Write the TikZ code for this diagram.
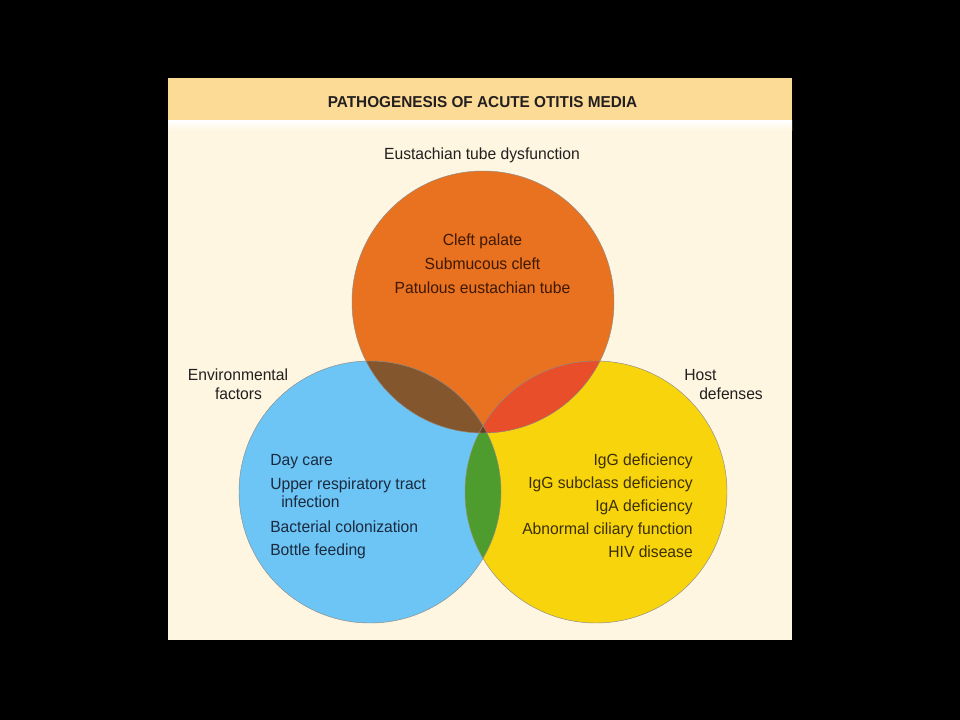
\documentclass[tikz,border=0pt]{standalone}
\usepackage{fontspec}
\setmainfont[FakeStretch=0.97]{Liberation Sans}
\definecolor{cream}{HTML}{FEF6E0}
\definecolor{band}{HTML}{FBDB96}
\definecolor{corange}{HTML}{E8721F}
\definecolor{cblue}{HTML}{6CC5F4}
\definecolor{cyel}{HTML}{F8D40C}
\definecolor{cbrown}{HTML}{84562D}
\definecolor{cred}{HTML}{E84E2A}
\definecolor{cgreen}{HTML}{4E9B2E}
\definecolor{ctriple}{HTML}{6A3C20}
\definecolor{tout}{HTML}{231F20}
\definecolor{tblue}{HTML}{1B2A3F}
\definecolor{tyel}{HTML}{3B2F05}
\definecolor{tor}{HTML}{3E1805}
\begin{document}
\begin{tikzpicture}[x=0.75pt,y=-0.75pt,
  lbl/.style={inner sep=0pt, font=\fontsize{12.1}{14}\selectfont},
  ttl/.style={inner sep=0pt, font=\fontsize{11.85}{13}\selectfont\bfseries, text=tout},
  outline/.style={draw=black!45, line width=0.35pt}]
\fill[black] (0,0) rectangle (960,720);
\useasboundingbox (0,0) rectangle (960,720);
% panel
\fill[cream] (168,78) rectangle (792,640);
\fill[band] (168,78) rectangle (792,121);
\shade[top color=white, bottom color=cream] (168,121) rectangle (792,131);
% circle centres
\coordinate (O) at (483,302);
\coordinate (B) at (370,492);
\coordinate (Y) at (596,492);
\fill[cblue] (B) circle[radius=131];
\fill[cyel] (Y) circle[radius=131];
\fill[corange] (O) circle[radius=131];
\begin{scope}\clip (O) circle[radius=131]; \fill[cbrown] (B) circle[radius=131];\end{scope}
\begin{scope}\clip (O) circle[radius=131]; \fill[cred] (Y) circle[radius=131];\end{scope}
\begin{scope}\clip (B) circle[radius=131]; \fill[cgreen] (Y) circle[radius=131];\end{scope}
\begin{scope}\clip (O) circle[radius=131]; \clip (B) circle[radius=131]; \fill[ctriple] (Y) circle[radius=131];\end{scope}
\draw[outline] (B) circle[radius=131];
\draw[outline] (Y) circle[radius=131];
\draw[outline] (O) circle[radius=131];
% title
\node[ttl, anchor=base] (title) at (482.5,108) {PATHOGENESIS OF ACUTE OTITIS MEDIA};
% outer labels
\node[lbl, text=tout, anchor=base] (eust) at (482,160) {Eustachian tube dysfunction};
\node[lbl, text=tout, anchor=base] (env1) at (238,380) {Environmental};
\node[lbl, text=tout, anchor=base] (env2) at (238.5,399) {factors};
\node[lbl, text=tout, anchor=base west] (host1) at (684,380) {Host};
\node[lbl, text=tout, anchor=base west] (host2) at (699,399) {defenses};
% orange text
\node[lbl, text=tor, anchor=base] (o1) at (482.5,246) {Cleft palate};
\node[lbl, text=tor, anchor=base] (o2) at (482.5,270) {Submucous cleft};
\node[lbl, text=tor, anchor=base] (o3) at (482.5,294) {Patulous eustachian tube};
% blue text
\node[lbl, text=tblue, anchor=base west] (b1) at (270,465) {Day care};
\node[lbl, text=tblue, anchor=base west] (b2) at (270,489) {Upper respiratory tract};
\node[lbl, text=tblue, anchor=base west] (b3) at (281,507) {infection};
\node[lbl, text=tblue, anchor=base west] (b4) at (270,532) {Bacterial colonization};
\node[lbl, text=tblue, anchor=base west] (b5) at (270,555) {Bottle feeding};
% yellow text
\node[lbl, text=tyel, anchor=base east] (y1) at (693,465) {IgG deficiency};
\node[lbl, text=tyel, anchor=base east] (y2) at (693,488) {IgG subclass deficiency};
\node[lbl, text=tyel, anchor=base east] (y3) at (693,511) {IgA deficiency};
\node[lbl, text=tyel, anchor=base east] (y4) at (693,534) {Abnormal ciliary function};
\node[lbl, text=tyel, anchor=base east] (y5) at (693,557) {HIV disease};
\end{tikzpicture}
\end{document}
